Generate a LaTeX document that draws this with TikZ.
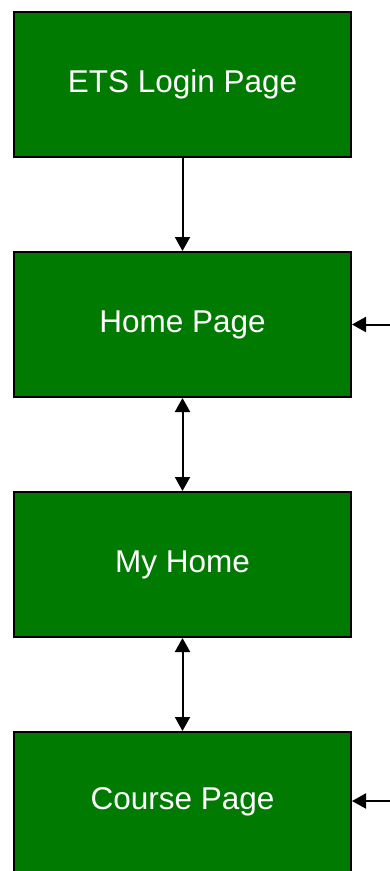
\documentclass[tikz,border=0pt]{standalone}
\usepackage{fontspec}
\setmainfont{Liberation Sans}
\usetikzlibrary{arrows.meta}
\definecolor{boxgreen}{HTML}{007A00}
\begin{document}
\begin{tikzpicture}[x=1pt,y=-1pt,
  pagebox/.style={draw=black,line width=2pt,fill=boxgreen,text=white,minimum width=337pt,minimum height=145pt,inner sep=0pt,font=\fontsize{31.5}{36}\selectfont},
  conn/.style={line width=2pt,-{Triangle[length=14pt,width=15pt]}},
  dconn/.style={line width=2pt,{Triangle[length=14pt,width=15pt]}-{Triangle[length=14pt,width=15pt]}}]
\useasboundingbox (0,0) rectangle (390,871);
\clip (0,0) rectangle (390,871);
\node[pagebox] (login) at (182.5,84.5) {ETS Login Page};
\node[pagebox] (home) at (182.5,324.5) {Home Page};
\node[pagebox] (myhome) at (182.5,564.5) {My Home};
\node[pagebox,minimum height=140pt] (course) at (182.5,802) {Course Page};
\coordinate (r1) at (391,324.5);
\coordinate (r2) at (391,801);
\draw[conn] (login) -- (home);
\draw[dconn] (home) -- (myhome);
\draw[dconn] (myhome) -- (course);
\draw[conn] (r1) -- (home.east |- r1);
\draw[conn] (r2) -- (course.east |- r2);
\end{tikzpicture}
\end{document}
